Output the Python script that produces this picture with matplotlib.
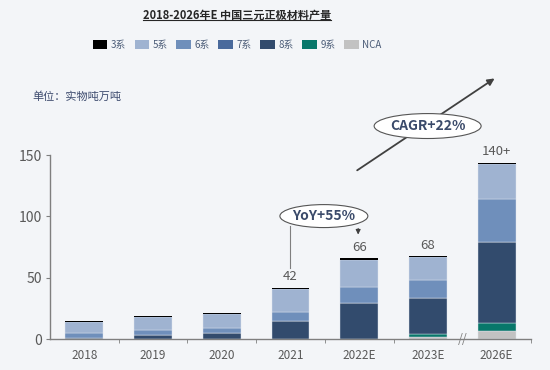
import matplotlib
matplotlib.use('Agg')
import numpy as np
import matplotlib.pyplot as plt
from matplotlib.patches import Ellipse, Patch
from matplotlib.lines import Line2D

plt.rcParams['font.family'] = ['Noto Sans CJK SC', 'DejaVu Sans']

# 数据（万吨）
years = ['2018', '2019', '2020', '2021', '2022E', '2023E', '2026E']
nca = [0, 0, 0, 0, 0, 1.5, 7.0]
s9 = [0, 0, 0, 0, 0, 3.0, 6.5]
s8 = [1.0, 3.5, 5.2, 14.9, 29.3, 29.3, 65.9]
s7 = [0, 0, 0, 0, 0, 0, 0]
s6 = [4.0, 4.0, 3.8, 7.0, 13.3, 14.6, 34.4]
s5 = [9.2, 10.8, 11.6, 19.2, 22.2, 18.4, 29.0]
s3 = [1.0, 1.0, 1.0, 1.0, 1.0, 1.0, 1.0]
total_labels = ['', '', '', '42', '66', '68', '140+']

bg = '#f3f5f8'
colors = {'3系': '#000000', '5系': '#9fb3d1', '6系': '#6f8fbb', '7系': '#4a6a9c',
          '8系': '#324b6d', '9系': '#08776a', 'NCA': '#c2c2c2'}
series = [('NCA', nca), ('9系', s9), ('8系', s8), ('7系', s7), ('6系', s6), ('5系', s5), ('3系', s3)]

fig = plt.figure(figsize=(5.5, 3.7), dpi=100, facecolor=bg)
ax = fig.add_axes([0.0909, 0.083, 0.8745, 0.498], facecolor=bg)

x = np.arange(len(years))
bottom = np.zeros(len(years))
for name, vals in series:
    vals = np.array(vals, dtype=float)
    lw = 0 if name == '3系' else 0.3
    ax.bar(x, vals, 0.55, bottom=bottom, color=colors[name], edgecolor='#dfe5ee', linewidth=lw, zorder=2)
    bottom += vals

for i, lab in enumerate(total_labels):
    if lab:
        ax.annotate(lab, (x[i], bottom[i]), xytext=(0, 3), textcoords='offset points',
                    ha='center', va='bottom', fontsize=9.5, color='#595959')

ax.set_xlim(-0.5, 6.5)
ax.set_ylim(0, 150)
ax.set_yticks([0, 50, 100, 150])
ax.set_xticks(x)
ax.set_xticklabels(years)
ax.set_xticks([0.5, 1.5, 2.5, 3.5, 4.5, 6.5], minor=True)
ax.tick_params(axis='x', which='major', length=0, pad=7, labelsize=8.5, labelcolor='#595959')
ax.tick_params(axis='x', which='minor', length=3, color='#7f7f7f', direction='out')
ax.tick_params(axis='y', length=3, color='#7f7f7f', labelsize=10, labelcolor='#595959', pad=3)
for s in ['top', 'right']:
    ax.spines[s].set_visible(False)
for s in ['left', 'bottom']:
    ax.spines[s].set_color('#7f7f7f')
    ax.spines[s].set_linewidth(1)

# 断轴标记
ax.text(5.5, 0, '//', ha='center', va='center', fontsize=9, color='#7f7f7f', clip_on=False, zorder=5)

# YoY 标注
ax.plot([3.0, 3.0], [58, 92], color='#7f7f7f', lw=0.8, clip_on=False, zorder=3)
ax.annotate('', xy=(3.985, 83), xytext=(3.985, 92.5), annotation_clip=False,
            arrowprops=dict(arrowstyle='-|>', color='#404040', lw=0.8, mutation_scale=7))
ax.add_patch(Ellipse((3.486, 100.3), 1.28, 18.7, facecolor='white', edgecolor='#555555',
                     lw=0.8, clip_on=False, zorder=4))
ax.text(3.486, 100.3, 'YoY+55%', ha='center', va='center', fontsize=10, fontweight='bold',
        color='#3a4a6a', zorder=5, clip_on=False)

# CAGR 标注
ax.annotate('', xy=(6.004, 213.6), xytext=(3.937, 136.3), annotation_clip=False,
            arrowprops=dict(arrowstyle='-|>', color='#404040', lw=1.3, mutation_scale=10))
ax.add_patch(Ellipse((4.996, 173.6), 1.557, 20.3, facecolor='white', edgecolor='#555555',
                     lw=0.8, clip_on=False, zorder=4))
ax.text(4.996, 173.6, 'CAGR+22%', ha='center', va='center', fontsize=10, fontweight='bold',
        color='#3a4a6a', zorder=5, clip_on=False)

# 单位
fig.text(32 / 550, 1 - 97 / 370, '单位：实物吨万吨', fontsize=8, style='italic',
         color='#3d4b6e', ha='left', va='center')

# 图例
order = ['3系', '5系', '6系', '7系', '8系', '9系', 'NCA']
handles = [Patch(facecolor=colors[k], edgecolor='none') for k in order]
fig.legend(handles, order, loc='center', bbox_to_anchor=(237 / 550, 1 - 45 / 370), ncol=7,
           frameon=False, fontsize=7, handlelength=1.5, handleheight=1.0, handletextpad=0.35,
           columnspacing=0.9, labelcolor='#4b5c78')

# 标题（带下划线）
title = fig.text(237 / 550, 1 - 15 / 370, '2018-2026年E 中国三元正极材料产量', ha='center', va='center',
                 fontsize=8, fontweight='bold', color='#262626')
fig.canvas.draw()
bb = title.get_window_extent().transformed(fig.transFigure.inverted())
fig.add_artist(Line2D([bb.x0, bb.x1], [bb.y0 + 0.003, bb.y0 + 0.003], transform=fig.transFigure,
                      color='#262626', lw=0.8))

fig.savefig('out.png', dpi=100, facecolor=bg)
